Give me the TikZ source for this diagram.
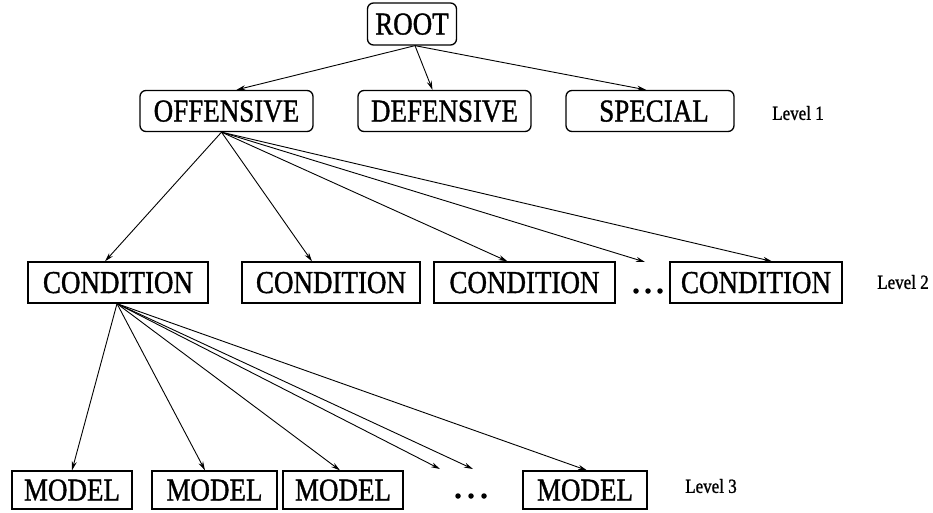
\documentclass[tikz,border=0pt]{standalone}
\usepackage{fontspec}
\usepackage{graphicx}
\setmainfont{Liberation Serif}
\newfontfamily\heavy{Liberation Serif}[BoldFont={Liberation Serif},BoldFeatures={FakeBold=1.2}]
\newcommand\tall[1]{\scalebox{1}[1.18]{#1}}
\usetikzlibrary{arrows.meta}
\begin{document}
\begin{tikzpicture}[x=1pt,y=-1pt,
  box/.style={draw,line width=1.3pt,inner sep=0pt,minimum height=41pt,
    text height=21pt,text depth=0pt,font=\fontsize{27}{30}\heavy\bfseries},
  rbox/.style={box,rounded corners=6pt},
  lvl/.style={font=\fontsize{17}{19}\heavy\bfseries,inner sep=0pt},
  arr/.style={line width=0.9pt,-{Stealth[length=9pt,width=5pt]}},
  dot/.style={circle,fill,inner sep=0pt,minimum size=5.5pt}]
\useasboundingbox (0,0) rectangle (933,512);

% top of the tree
\node[rbox,minimum width=89pt,minimum height=42pt] (root) at (412,24) {\tall{ROOT}};

% level 1
\node[rbox,minimum width=173pt] (off)  at (226.5,111) {\tall{OFFENSIVE}};
\node[rbox,minimum width=173pt] (def)  at (444.5,111) {\tall{DEFENSIVE}};
\node[rbox,minimum width=168pt] (spec) at (650,111) {\tall{\hspace{8pt}SPECIAL}};
\node[lvl] (l1) at (798,113) {\tall{Level 1}};

% level 2
\node[box,minimum width=180pt] (c1) at (118,282.5) {\tall{CONDITION}};
\node[box,minimum width=178pt] (c2) at (331,282.5) {\tall{CONDITION}};
\node[box,minimum width=181pt] (c3) at (524.5,282.5) {\tall{CONDITION}};
\node[box,minimum width=172pt] (c4) at (756,282.5) {\tall{CONDITION}};
\node[lvl] (l2) at (903,282) {\tall{Level 2}};
\node[dot] (d21) at (636,291) {};
\node[dot] (d22) at (648,291) {};
\node[dot] (d23) at (660,291) {};

% level 3
\node[box,minimum width=120pt,minimum height=38pt] (m1) at (72,490) {\tall{MODEL}};
\node[box,minimum width=125pt,minimum height=38pt] (m2) at (214.5,490) {\tall{MODEL}};
\node[box,minimum width=120pt,minimum height=38pt] (m3) at (343,490) {\tall{MODEL}};
\node[box,minimum width=124pt,minimum height=38pt] (m4) at (585,490) {\tall{MODEL}};
\node[lvl] (l3) at (711,486) {\tall{Level 3}};
\node[dot] (d31) at (458,496) {};
\node[dot] (d32) at (471,496) {};
\node[dot] (d33) at (484,496) {};

% free ends pointing at the elided siblings
\coordinate (c2x) at (645,262);
\coordinate (m3x) at (440,469);
\coordinate (m3y) at (473,469);

% root to level 1
\coordinate (rs) at ([xshift=3pt]root.south);
\draw[arr] (rs) -- ([xshift=10pt]off.north);
\draw[arr] (rs) -- ([xshift=-12pt]def.north);
\draw[arr] (rs) -- ([xshift=-4pt]spec.north);

% offensive to conditions
\coordinate (os) at ([xshift=-5pt]off.south);
\draw[arr] (os) -- ([xshift=-13pt]c1.north);
\draw[arr] (os) -- ([xshift=-19pt]c2.north);
\draw[arr] (os) -- ([xshift=-17pt]c3.north);
\draw[arr] (os) -- (c2x);
\draw[arr] (os) -- ([xshift=16pt]c4.north);

% condition to models
\coordinate (cs) at ([xshift=-1pt]c1.south);
\draw[arr] (cs) -- (m1.north);
\draw[arr] (cs) -- ([xshift=-9.5pt]m2.north);
\draw[arr] (cs) -- ([xshift=-3pt]m3.north);
\draw[arr] (cs) -- (m3x);
\draw[arr] (cs) -- (m3y);
\draw[arr] (cs) -- ([xshift=2pt]m4.north);
\end{tikzpicture}
\end{document}
